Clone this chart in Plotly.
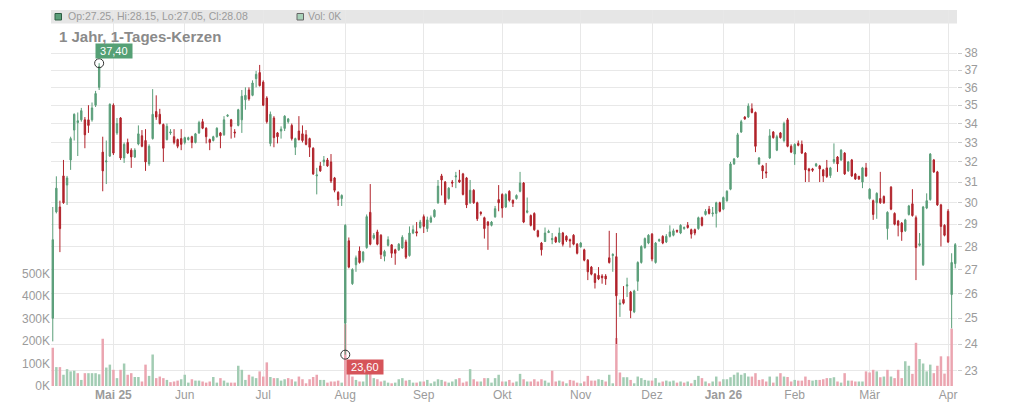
import numpy as np
import plotly.graph_objects as go

# ---------------- data ----------------
opens = [
    25.0, 29.57, 29.8, 31.3, 30.85, 32.1, 33.65, 34.05, 34.2, 34.2,
    34.2, 34.2, 35.0, 36.0, 32.5, 32.0, 32.3, 35.0, 33.5, 34.3,
    32.2, 33.0, 32.6, 32.25, 32.92, 33.35, 33.1, 31.9, 33.2, 34.65,
    34.5, 33.95, 33.15, 33.5, 33.3, 33.15, 33.2, 33.0, 33.15, 33.3,
    33.0, 33.5, 34.1, 33.75, 33.15, 33.1, 33.3, 33.5, 33.4, 34.4,
    34.2, 33.55, 33.9, 34.2, 35.3, 35.85, 35.55, 36.5, 36.85, 36.3,
    35.4, 32.95, 34.3, 33.5, 33.6, 33.74, 34.1, 33.9, 32.75, 33.6,
    33.45, 33.4, 33.2, 32.7, 31.3, 31.8, 32.0, 32.1, 32.0, 31.2,
    30.5, 30.2, 24.8, 28.25, 26.4, 27.2, 27.8, 27.4, 27.95, 29.55,
    28.37, 28.65, 28.5, 27.57, 28.05, 28.07, 27.85, 27.85, 27.93, 28.2,
    27.6, 28.6, 28.66, 28.85, 29.35, 28.8, 29.1, 29.35, 30.0, 31.3,
    31.0, 30.2, 31.0, 31.25, 31.1, 31.4, 31.2, 30.0, 30.6, 30.0,
    29.55, 29.3, 29.1, 28.95, 29.34, 30.15, 30.4, 29.8, 30.55, 30.12,
    30.2, 30.55, 30.95, 29.55, 29.4, 29.5, 28.7, 28.15, 28.22, 28.62,
    28.3, 28.4, 28.2, 28.6, 28.45, 28.3, 28.5, 28.1, 27.98, 27.85,
    27.4, 27.1, 26.8, 26.75, 26.72, 26.72, 27.5, 27.6, 27.55, 25.55,
    25.75, 26.3, 26.05, 25.25, 26.5, 27.3, 27.95, 28.15, 28.55, 27.3,
    28.25, 28.45, 28.2, 28.45, 28.5, 28.72, 28.6, 28.8, 28.95, 28.75,
    28.75, 28.8, 29.3, 29.45, 29.7, 29.48, 29.5, 30.0, 29.7, 30.1,
    30.65, 31.9, 32.25, 33.55, 34.35, 34.35, 34.8, 34.6, 31.9, 31.8,
    31.5, 32.2, 33.55, 32.6, 33.5, 33.1, 34.2, 32.8, 32.4, 32.95,
    32.9, 32.45, 31.65, 31.65, 31.8, 31.8, 31.6, 31.7, 31.32, 32.0,
    32.25, 32.1, 32.45, 31.55, 32.1, 31.4, 31.28, 31.0, 31.7, 30.2,
    30.1, 30.0, 30.2, 30.3, 28.8, 30.75, 29.5, 29.15, 29.05, 28.7,
    29.45, 29.95, 29.3, 28.05, 27.2, 29.75, 30.15, 32.1, 31.5, 29.9,
    28.95, 29.6, 25.95, 27.25,
]
highs = [
    29.8, 31.28, 30.1, 32.1, 31.3, 33.3, 34.55, 34.6, 34.85, 34.35,
    35.0, 35.15, 35.8, 37.4, 33.3, 33.1, 35.1, 35.1, 34.3, 34.35,
    33.0, 33.2, 32.7, 32.7, 33.9, 33.65, 33.7, 32.9, 35.9, 35.55,
    34.8, 34.0, 34.0, 33.7, 33.7, 33.2, 33.7, 33.3, 33.3, 33.35,
    33.5, 34.15, 34.25, 33.8, 33.2, 33.35, 33.8, 33.55, 34.4, 34.5,
    34.25, 33.7, 34.8, 35.85, 36.0, 36.0, 36.4, 36.95, 37.3, 36.4,
    35.5, 34.65, 34.4, 33.55, 33.85, 34.45, 34.3, 34.0, 33.25, 34.4,
    33.9, 33.65, 33.25, 32.75, 31.7, 32.0, 32.3, 32.2, 32.4, 31.25,
    30.55, 30.4, 29.0, 28.4, 27.05, 27.6, 28.0, 27.8, 29.45, 30.9,
    28.6, 28.75, 28.55, 27.85, 28.45, 28.1, 27.9, 28.15, 28.5, 28.3,
    28.9, 28.95, 29.1, 29.2, 29.45, 29.35, 29.4, 29.7, 31.1, 31.4,
    31.05, 30.75, 31.1, 31.5, 31.6, 31.45, 31.25, 31.1, 30.65, 30.05,
    29.6, 29.35, 29.15, 29.15, 29.85, 30.85, 30.45, 30.45, 30.6, 30.15,
    30.4, 31.5, 31.0, 30.25, 29.45, 29.55, 28.75, 28.2, 28.85, 28.75,
    28.6, 28.45, 28.85, 28.65, 28.5, 28.35, 28.55, 28.15, 28.2, 27.9,
    27.45, 27.15, 26.85, 27.1, 26.8, 26.8, 28.7, 27.7, 28.6, 25.75,
    26.3, 26.65, 26.1, 26.15, 27.35, 28.05, 28.4, 28.55, 28.6, 28.2,
    28.35, 28.5, 28.55, 28.95, 28.8, 28.75, 29.0, 28.9, 29.1, 28.8,
    28.8, 29.35, 29.35, 29.7, 29.85, 29.8, 30.05, 30.05, 30.3, 30.6,
    32.0, 32.2, 33.5, 34.2, 34.4, 35.1, 35.1, 34.65, 32.25, 31.85,
    31.95, 33.7, 33.6, 33.4, 33.55, 34.1, 34.3, 32.9, 32.95, 33.1,
    33.1, 32.5, 31.7, 31.7, 31.95, 31.85, 31.65, 32.1, 31.75, 32.95,
    32.3, 32.65, 32.5, 32.05, 32.15, 31.45, 31.3, 31.75, 31.95, 30.7,
    30.15, 30.5, 31.5, 30.35, 29.6, 30.8, 29.55, 29.2, 29.1, 29.25,
    29.9, 30.65, 29.4, 28.6, 29.85, 30.45, 32.45, 32.15, 31.55, 29.95,
    29.0, 29.7, 27.7, 28.15,
]
lows = [
    24.1, 29.5, 27.75, 29.95, 29.9, 31.6, 33.1, 32.3, 34.1, 32.7,
    33.5, 34.1, 34.9, 35.85, 30.55, 30.9, 32.25, 32.35, 33.4, 32.1,
    31.95, 32.4, 31.7, 32.2, 32.85, 32.75, 31.55, 31.8, 33.15, 34.2,
    33.95, 32.0, 33.1, 33.4, 32.9, 32.7, 32.6, 32.9, 33.1, 32.7,
    32.95, 33.45, 33.7, 32.95, 32.6, 33.05, 33.25, 32.7, 33.35, 34.35,
    33.2, 33.25, 33.85, 33.5, 34.75, 35.25, 35.5, 36.0, 36.05, 34.95,
    34.0, 32.8, 32.75, 32.95, 33.2, 33.6, 34.0, 33.1, 32.35, 33.1,
    33.0, 32.85, 32.25, 31.35, 30.4, 31.5, 31.8, 31.75, 30.95, 30.5,
    29.85, 29.85, 23.6, 27.05, 26.35, 26.9, 27.25, 27.3, 27.9, 28.05,
    28.3, 28.05, 27.45, 27.35, 28.0, 27.5, 27.2, 27.8, 27.9, 27.45,
    27.55, 28.55, 28.45, 28.8, 28.6, 28.65, 29.05, 29.3, 29.95, 30.35,
    29.9, 30.15, 30.75, 30.7, 30.95, 30.35, 29.75, 29.95, 29.95, 29.15,
    29.4, 28.35, 27.85, 28.9, 29.3, 29.6, 29.3, 29.75, 30.05, 29.8,
    30.15, 30.5, 29.05, 29.5, 28.9, 28.7, 28.4, 27.6, 28.2, 28.6,
    28.1, 28.15, 28.15, 28.0, 28.2, 27.95, 28.05, 27.65, 27.95, 27.35,
    26.55, 26.75, 26.2, 26.55, 26.4, 26.35, 27.25, 26.9, 24.0, 25.05,
    25.55, 25.85, 25.0, 25.2, 26.1, 27.25, 27.9, 28.1, 27.35, 27.25,
    28.2, 28.1, 28.15, 28.4, 28.45, 28.6, 28.55, 28.75, 28.8, 28.35,
    28.5, 28.75, 28.9, 29.4, 29.45, 29.35, 28.85, 29.55, 29.65, 30.05,
    30.6, 31.85, 32.2, 33.5, 34.2, 34.3, 34.55, 32.5, 31.85, 31.15,
    31.2, 32.15, 33.2, 32.55, 33.2, 33.0, 32.75, 32.45, 31.85, 32.8,
    32.4, 31.0, 31.0, 31.5, 31.75, 31.0, 31.0, 31.2, 31.2, 31.9,
    31.5, 32.05, 31.35, 31.5, 31.25, 31.1, 31.1, 30.7, 31.25, 30.15,
    29.2, 29.25, 29.95, 29.95, 28.3, 29.65, 28.95, 28.45, 28.25, 28.65,
    29.4, 29.35, 26.55, 28.0, 27.15, 29.7, 30.1, 31.45, 29.85, 28.0,
    28.45, 28.15, 24.6, 27.05,
]
closes = [
    28.3, 30.7, 28.8, 30.0, 31.2, 33.2, 34.5, 34.15, 34.7, 33.4,
    33.9, 34.85, 35.65, 37.2, 31.55, 32.05, 35.05, 32.45, 34.0, 32.2,
    32.9, 32.45, 32.25, 32.6, 33.45, 32.8, 32.0, 32.8, 34.5, 34.35,
    34.0, 32.7, 33.85, 33.55, 33.0, 32.8, 32.9, 33.25, 33.25, 33.0,
    33.45, 34.05, 33.75, 33.3, 33.0, 33.3, 33.75, 33.35, 34.2, 34.45,
    33.85, 33.5, 34.75, 35.5, 35.55, 35.35, 36.25, 36.75, 36.1, 35.0,
    34.1, 34.5, 33.25, 33.3, 33.7, 34.4, 34.25, 33.2, 33.2, 33.15,
    33.1, 32.9, 32.75, 31.4, 31.35, 31.55, 32.1, 31.8, 31.05, 30.6,
    30.15, 30.35, 28.95, 27.1, 27.0, 27.5, 27.3, 27.75, 29.35, 28.1,
    28.5, 28.1, 27.65, 27.78, 28.3, 27.7, 27.7, 28.1, 28.41, 27.53,
    28.6, 28.75, 28.6, 29.1, 28.9, 29.2, 29.3, 29.65, 30.8, 31.1,
    30.0, 30.7, 30.95, 31.3, 31.0, 30.4, 29.9, 30.6, 30.0, 29.25,
    29.5, 28.8, 28.95, 29.1, 29.72, 30.0, 29.75, 30.4, 30.12, 29.98,
    30.35, 30.95, 29.1, 29.62, 28.95, 28.75, 28.45, 27.85, 28.6, 28.67,
    28.35, 28.2, 28.6, 28.1, 28.28, 28.25, 28.1, 27.7, 28.15, 27.4,
    26.9, 26.8, 26.45, 26.6, 26.65, 26.6, 27.3, 27.65, 25.9, 25.6,
    25.6, 26.35, 25.3, 26.1, 27.3, 28.0, 28.35, 28.5, 27.45, 28.15,
    28.3, 28.15, 28.45, 28.65, 28.7, 28.68, 28.95, 28.85, 28.85, 28.55,
    28.6, 29.3, 28.95, 29.6, 29.5, 29.52, 30.0, 29.6, 30.25, 30.55,
    31.9, 32.15, 33.4, 34.1, 34.25, 34.95, 34.6, 32.8, 32.2, 31.55,
    31.45, 33.35, 33.25, 33.3, 33.25, 34.0, 32.8, 32.5, 32.9, 32.85,
    32.45, 31.6, 31.55, 31.58, 31.9, 31.65, 31.3, 31.27, 31.7, 32.12,
    31.9, 32.6, 31.4, 32.0, 31.3, 31.15, 31.15, 31.7, 31.3, 30.65,
    29.45, 30.45, 30.0, 30.0, 29.55, 29.7, 29.0, 28.95, 28.65, 29.2,
    29.85, 29.4, 27.95, 28.12, 29.8, 30.1, 32.4, 31.5, 29.9, 28.9,
    28.5, 28.2, 27.3, 28.08,
]
volumes_k = [
    170, 84, 84, 50, 75, 65, 68, 57, 27, 57,
    57, 57, 57, 52, 210, 82, 95, 72, 35, 72,
    100, 50, 57, 40, 40, 20, 95, 45, 140, 35,
    42, 35, 27, 17, 20, 24, 30, 50, 15, 30,
    24, 24, 20, 15, 20, 40, 15, 35, 24, 15,
    15, 15, 90, 72, 27, 50, 42, 35, 65, 42,
    105, 40, 35, 35, 24, 30, 35, 30, 20, 42,
    30, 12, 30, 40, 50, 27, 27, 15, 20, 20,
    24, 15, 275, 72, 42, 27, 20, 20, 72, 80,
    35, 30, 20, 24, 15, 12, 15, 30, 35, 24,
    27, 15, 15, 20, 20, 27, 12, 20, 30, 27,
    20, 15, 20, 30, 35, 15, 20, 75, 30, 20,
    20, 35, 35, 15, 35, 50, 20, 20, 27, 15,
    20, 54, 30, 20, 20, 30, 20, 30, 24, 15,
    68, 20, 24, 20, 12, 27, 24, 15, 12, 20,
    45, 24, 24, 30, 27, 20, 50, 12, 213, 60,
    39, 39, 27, 12, 42, 35, 27, 24, 24, 35,
    15, 20, 24, 20, 24, 15, 20, 15, 20, 12,
    27, 45, 35, 20, 12, 20, 42, 20, 30, 30,
    39, 50, 60, 50, 57, 42, 42, 57, 27, 30,
    20, 42, 15, 42, 57, 42, 40, 20, 27, 24,
    24, 42, 27, 24, 27, 27, 30, 35, 35, 39,
    20, 15, 57, 24, 24, 20, 20, 20, 65, 60,
    72, 65, 39, 42, 72, 42, 35, 72, 35, 110,
    90, 54, 192, 120, 100, 65, 95, 57, 90, 132,
    55, 132, 255, 0,
]
prev_close_before = 29.6   # close of the day before the first candle

month_labels = ["<b>Mai 25</b>", "Jun", "Jul", "Aug", "Sep", "Okt", "Nov",
                "Dez", "<b>Jan 26</b>", "Feb", "Mär", "Apr"]
month_start_idx = [17, 37, 59, 82, 104, 126, 148, 168, 188, 208, 229, 251]
price_ticks = list(range(23, 39))
vol_ticks_k = [0, 100, 200, 300, 400, 500]
title_text = "1 Jahr, 1-Tages-Kerzen"

# ---------------- styling ----------------
FONT = "Liberation Sans, Arial, Helvetica, sans-serif"
GREEN = "#5a9e79"
RED = "#b1232b"
VOL_GREEN = "#a2ccb3"
VOL_RED = "#eba5b0"
LBL_GREEN = "#55a075"
LBL_RED = "#d6545a"
GRID = "#e8e8e8"
TXT = "#9b9b9b"

W, H = 1024, 409
ML, MR, MT, MB = 51, 67, 10, 23
PW, PH = W - ML - MR, H - MT - MB


def px(xp):
    return (xp - ML) / PW


def py(yp):
    return 1 - (yp - MT) / PH


n = len(opens)
xs = list(range(n))
highs = [max(h, o, c) for h, o, c in zip(highs, opens, closes)]
lows = [min(l, o, c) for l, o, c in zip(lows, opens, closes)]

vol_colors = []
prev = prev_close_before
for c in closes:
    vol_colors.append(VOL_GREEN if c >= prev else VOL_RED)
    prev = c

# axis ranges (pixel fit of the reference)
vol_top = 1671000
price_lo, price_hi = 22.46, 40.68

fig = go.Figure()
fig.add_trace(go.Bar(
    x=xs, y=[v * 1000 for v in volumes_k], marker=dict(color=vol_colors, line_width=0),
    xaxis="x", yaxis="y", hoverinfo="skip", showlegend=False))
fig.add_trace(go.Candlestick(
    x=xs, open=opens, high=highs, low=lows, close=closes,
    xaxis="x", yaxis="y2", whiskerwidth=0, showlegend=False,
    increasing=dict(line=dict(color=GREEN, width=1), fillcolor=GREEN),
    decreasing=dict(line=dict(color=RED, width=1), fillcolor=RED)))

imax = int(np.argmax(highs))
imin = int(np.argmin(lows))
fig.add_trace(go.Scatter(
    x=[imax, imin], y=[highs[imax], lows[imin]], mode="markers", xaxis="x", yaxis="y2",
    marker=dict(symbol="circle-open", size=9, color="#333333", line=dict(width=1)),
    hoverinfo="skip", showlegend=False))


def fmt(v):
    return f"{v:.2f}".replace(".", ",")


annotations = [
    dict(x=imax, y=np.log10(highs[imax]), xref="x", yref="y2", text=f" {fmt(highs[imax])} ",
         showarrow=False, xanchor="left", yanchor="bottom", xshift=-4, yshift=4,
         bgcolor=LBL_GREEN, borderpad=1, font=dict(family=FONT, size=11, color="white")),
    dict(x=imin, y=np.log10(lows[imin]), xref="x", yref="y2", text=f" {fmt(lows[imin])} ",
         showarrow=False, xanchor="left", yanchor="top", xshift=1, yshift=-4,
         bgcolor=LBL_RED, borderpad=1, font=dict(family=FONT, size=11, color="white")),
    dict(x=px(57), y=py(36), xref="paper", yref="paper", text=f"<b>{title_text}</b>",
         showarrow=False, xanchor="left", yanchor="middle",
         font=dict(family=FONT, size=15, color="#8a8a8a")),
    dict(x=px(66), y=py(16.5), xref="paper", yref="paper",
         text=f"Op:{opens[-1]:.2f}, Hi:{highs[-1]:.2f}, Lo:{lows[-1]:.2f}, Cl:{closes[-1]:.2f}",
         showarrow=False, xanchor="left", yanchor="middle",
         font=dict(family=FONT, size=10.5, color=TXT)),
    dict(x=px(306), y=py(16.5), xref="paper", yref="paper",
         text=f"Vol: {volumes_k[-1]:.0f}K",
         showarrow=False, xanchor="left", yanchor="middle",
         font=dict(family=FONT, size=10.5, color=TXT)),
]

shapes = [
    dict(type="rect", xref="paper", yref="paper", x0=0, x1=1, y0=py(23.5), y1=1,
         fillcolor="#e6e6e6", line_width=0, layer="below"),
    dict(type="rect", xref="paper", yref="paper", x0=px(55), x1=px(61.5), y0=py(20), y1=py(13.5),
         fillcolor=GREEN, line=dict(color="#2e5e44", width=1), layer="above"),
    dict(type="rect", xref="paper", yref="paper", x0=px(297), x1=px(303.5), y0=py(20), y1=py(13.5),
         fillcolor="#a8d1b9", line=dict(color="#666666", width=1), layer="above"),
]

fig.update_layout(
    width=W, height=H,
    margin=dict(l=ML, r=MR, t=MT, b=MB, pad=0, autoexpand=False),
    paper_bgcolor="white", plot_bgcolor="white",
    showlegend=False, bargap=0.3, boxgap=0.45, hovermode=False,
    font=dict(family=FONT, size=12, color=TXT),
    annotations=annotations, shapes=shapes,
    xaxis=dict(range=[-0.5, n - 0.5], tickmode="array", tickvals=month_start_idx,
               ticktext=month_labels, showgrid=True, gridcolor=GRID, gridwidth=1,
               zeroline=False, showline=False, ticks="", automargin=False,
               tickfont=dict(family=FONT, size=12, color=TXT),
               rangeslider=dict(visible=False)),
    yaxis=dict(range=[0, vol_top], tickmode="array", tickvals=[v * 1000 for v in vol_ticks_k],
               ticktext=[f"{v}K" for v in vol_ticks_k], showgrid=False, zeroline=False,
               showline=False, side="left", ticks="", automargin=False,
               tickfont=dict(family=FONT, size=12, color=TXT)),
    yaxis2=dict(type="log", range=[np.log10(price_lo), np.log10(price_hi)],
                overlaying="y", side="right", tickmode="array", tickvals=price_ticks,
                ticktext=[str(p) for p in price_ticks], showgrid=True, gridcolor=GRID,
                gridwidth=1, zeroline=False, showline=False, ticks="outside", ticklen=4,
                automargin=False,
                tickcolor="#cccccc", tickfont=dict(family=FONT, size=12, color=TXT)),
)

fig.write_html("out.html", config={"displayModeBar": False},
               post_script="document.body.style.margin='0px';")
